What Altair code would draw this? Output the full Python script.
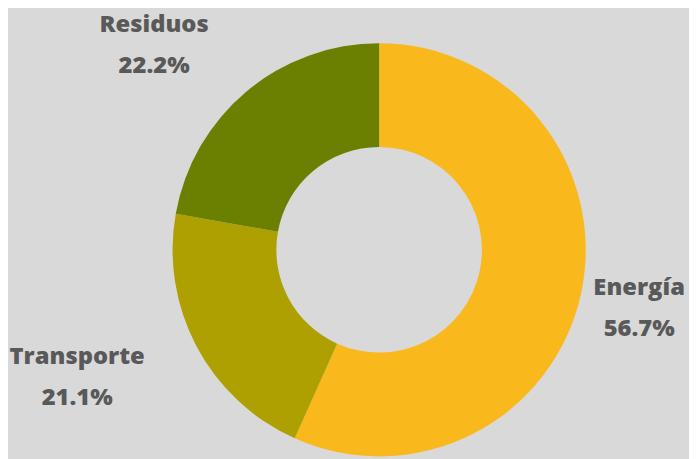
import altair as alt
import pandas as pd

categories = ["Energía", "Transporte", "Residuos"]
values = [56.7, 21.1, 22.2]
colors = ["#F9B81B", "#AEA000", "#6B8000"]

df = pd.DataFrame({
    "cat": categories,
    "val": values,
    "order": [0, 1, 2],
})
df["label"] = [f"{c}\n{v:.1f}%" for c, v in zip(categories, values)]

CX, CY = 375.5, 242

arc = alt.Chart(df).mark_arc(innerRadius=104, outerRadius=209, stroke=None).encode(
    theta=alt.Theta("val:Q", stack=True),
    order=alt.Order("order:Q"),
    x=alt.value(CX), y=alt.value(CY),
    color=alt.Color("cat:N", scale=alt.Scale(domain=categories, range=colors), legend=None),
)

text_base = alt.Chart(df).transform_window(
    cum="sum(val)", sort=[alt.SortField("order")]
).transform_calculate(
    mid="datum.cum - datum.val / 2"
)

label_pos = {"Energía": (269, 0, -17), "Transporte": (331, -13, -46), "Residuos": (300, -35, 3)}
layers = [arc]
for c in categories:
    r, dx, dy = label_pos[c]
    t = text_base.mark_text(
        radius=r, dx=dx, dy=dy, font="Open Sans", fontWeight=800, fontSize=24,
        color="#595959", lineBreak="\n", lineHeight=41, align="center", baseline="middle",
    ).encode(
        theta=alt.Theta("mid:Q", scale=alt.Scale(domain=[0, 100], range=[0, 6.283185307179586])),
        x=alt.value(CX), y=alt.value(CY), text="label:N",
    ).transform_filter(alt.datum.cat == c)
    layers.append(t)

chart = alt.layer(*layers).resolve_scale(theta="independent").properties(
    width=689, height=451, background="#D9D9D9", padding=0,
    autosize=alt.AutoSizeParams(type="none"),
).configure_view(stroke=None)

chart.save("out.html", embed_options={"renderer": "svg", "actions": False})
